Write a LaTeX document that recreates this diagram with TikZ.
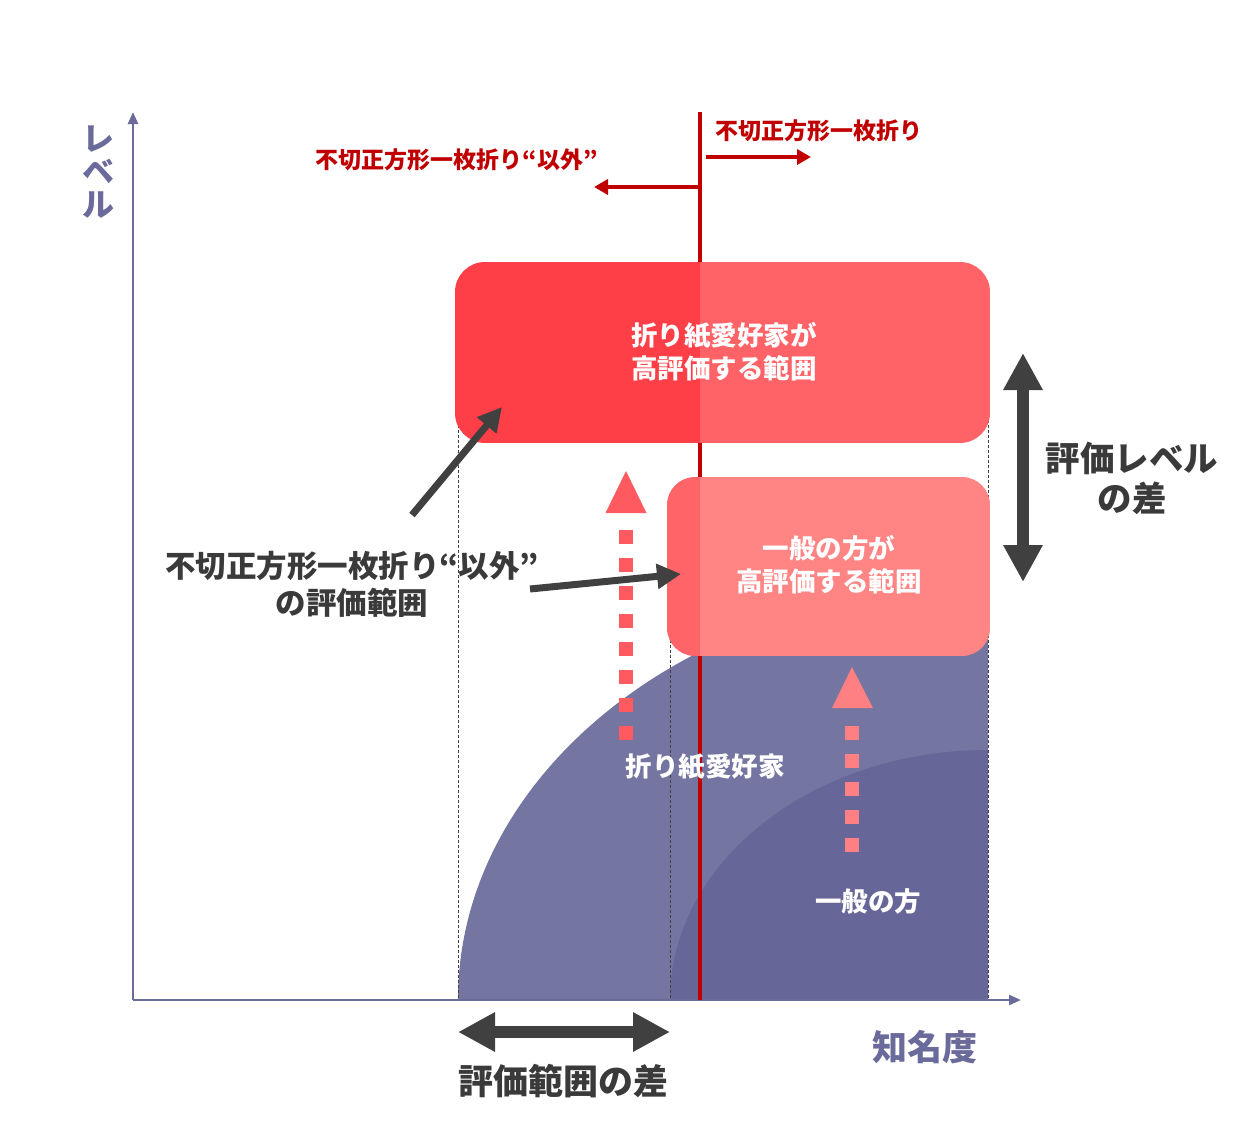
\documentclass[tikz,border=0pt]{standalone}
\usepackage{fontspec}
\setmainfont{Noto Sans CJK JP}
\usetikzlibrary{arrows.meta}
\definecolor{axisc}{HTML}{6B6B9B}
\definecolor{purpL}{HTML}{7575A1}
\definecolor{purpD}{HTML}{666699}
\definecolor{redln}{HTML}{C00000}
\definecolor{boxAL}{HTML}{FF3F48}
\definecolor{boxAR}{HTML}{FF6367}
\definecolor{boxBL}{HTML}{FF6468}
\definecolor{boxBR}{HTML}{FF8585}
\definecolor{darkc}{HTML}{404040}
\definecolor{txtc}{HTML}{3A3A3A}
\definecolor{pinkA}{HTML}{FF5A60}
\definecolor{pinkB}{HTML}{FF8082}
\tikzset{
  axisline/.style={draw=axisc, line width=2.5pt, -{Triangle[length=12pt,width=10pt]}},
  guide/.style={draw=black!75, line width=0.8pt, dash pattern=on 3pt off 2pt},
  redarrow/.style={draw=redln, line width=4pt, -{Triangle[length=14pt,width=15pt]}},
  ptr/.style={draw=darkc, line width=7pt, -{Triangle[length=24pt,width=24pt]}},
  bigdbl/.style={draw=darkc, line width=12pt, {Triangle[length=37pt,width=37pt]}-{Triangle[length=37pt,width=37pt]}},
  dashshaft/.style={line width=14pt, dash pattern=on 14pt off 14pt},
  wlabel/.style={text=white, font=\fontsize{26.5}{33}\selectfont\bfseries, align=center, inner sep=0pt},
  blabel/.style={text=txtc, font=\fontsize{30.5}{37}\selectfont\bfseries, align=center, inner sep=0pt},
  rlabel/.style={text=redln, font=\fontsize{23}{27}\selectfont\bfseries, inner sep=0pt},
  plabel/.style={text=axisc, font=\fontsize{34}{33}\selectfont\bfseries, align=center, inner sep=0pt}
}
\begin{document}
\begin{tikzpicture}[x=1pt,y=1pt,yscale=-1]
\useasboundingbox (0,0) rectangle (1243,1125);

% purple regions
\fill[purpL] (458,1000) arc[start angle=180,end angle=270,x radius=530,y radius=415] -- (988,1000) -- cycle;
\fill[purpD] (670,1000) arc[start angle=180,end angle=270,x radius=318,y radius=250] -- (988,1000) -- cycle;

% guide lines
\coordinate (g1t) at (458,300); \coordinate (g1b) at (458,1000);
\coordinate (g2t) at (670,600); \coordinate (g2b) at (670,1000);
\coordinate (g3t) at (988,300); \coordinate (g3b) at (988,1000);
\draw[guide] (g1t) -- (g1b);
\draw[guide] (g2t) -- (g2b);
\draw[guide] (g3t) -- (g3b);

% axes
\coordinate (O) at (133,1000);
\coordinate (ytip) at (133,112);
\coordinate (xtip) at (1021,1000);
\draw[axisline] (O) -- (ytip);
\draw[axisline] (O) -- (xtip);

% red divider
\coordinate (rt) at (700,112); \coordinate (rb) at (700,1000);
\draw[redln, line width=4pt] (rt) -- (rb);
\coordinate (ra1) at (706,157); \coordinate (ra2) at (811,157);
\coordinate (la1) at (698,187); \coordinate (la2) at (594,187);
\draw[redarrow] (ra1) -- (ra2);
\draw[redarrow] (la1) -- (la2);

% box 1
\begin{scope}
\clip[rounded corners=30pt] (455,262) rectangle (990,443);
\fill[boxAL] (455,262) rectangle (700,443);
\fill[boxAR] (700,262) rectangle (990,443);
\end{scope}
% box 2
\begin{scope}
\clip[rounded corners=28pt] (667,477) rectangle (990,656);
\fill[boxBL] (667,477) rectangle (700,656);
\fill[boxBR] (700,477) rectangle (990,656);
\end{scope}

% pink dashed arrows
\coordinate (p1b) at (626,740); \coordinate (p1t) at (626,529);
\draw[pinkA, dashshaft] (p1b) -- (p1t);
\fill[pinkA] (605.5,513) -- (626,471) -- (646.5,513) -- cycle;
\coordinate (p2b) at (852,852); \coordinate (p2t) at (852,722);
\draw[pinkB, dashshaft] (p2b) -- (p2t);
\fill[pinkB] (832,708) -- (852,667) -- (873,708) -- cycle;

% pointer arrows
\coordinate (a1s) at (412,515); \coordinate (a1e) at (502,407);
\coordinate (a2s) at (530,589); \coordinate (a2e) at (681,574);
\draw[ptr] (a1s) -- (a1e);
\draw[ptr] (a2s) -- (a2e);

% difference arrows
\coordinate (v1) at (1023,353); \coordinate (v2) at (1023,582);
\draw[bigdbl] (v1) -- (v2);
\coordinate (h1) at (458,1032); \coordinate (h2) at (670,1032);
\draw[bigdbl] (h1) -- (h2);

% texts
\node[rlabel] (rl1) at (819,131) {不切正方形一枚折り};
\node[rlabel] (rl2) at (457,160) {不切正方形一枚折り“以外”};
\node[plabel, font=\fontsize{32}{33}\selectfont\bfseries] (ylab) at (98,172) {レ\\ベ\\ル};
\node[plabel, font=\fontsize{35}{40}\selectfont\bfseries] (xlab) at (925,1047) {知名度};
\node[blabel] (bl1) at (352,584) {不切正方形一枚折り“以外”\\の評価範囲};
\node[blabel, font=\fontsize{34.5}{40}\selectfont\bfseries] (bl2) at (1132,478) {評価レベル\\の差};
\node[blabel, font=\fontsize{35}{40}\selectfont\bfseries] (bl3) at (563,1081) {評価範囲の差};
\node[wlabel] (w1) at (724,352) {折り紙愛好家が\\高評価する範囲};
\node[wlabel] (w2) at (829,565) {一般の方が\\高評価する範囲};
\node[wlabel] (w3) at (705,767) {折り紙愛好家};
\node[wlabel] (w4) at (868,901) {一般の方};
\end{tikzpicture}
\end{document}
